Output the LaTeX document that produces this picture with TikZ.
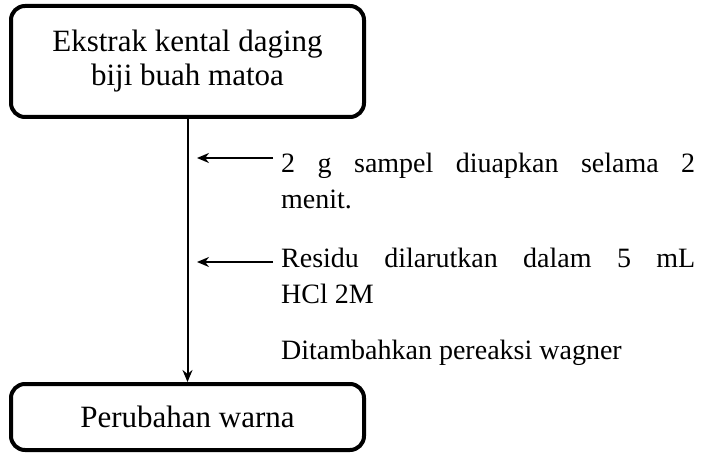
\documentclass[tikz,border=0pt]{standalone}
\usepackage{fontspec}
\setmainfont{Liberation Serif}
\usetikzlibrary{arrows.meta}
\hyphenpenalty=10000

\begin{document}
\begin{tikzpicture}[x=1pt, y=-1pt, >={Stealth[length=12pt,width=10pt]},
    box/.style={draw, line width=4pt, rounded corners=14pt, minimum width=353pt, inner ysep=0pt, align=center, font=\fontsize{31}{34}\selectfont},
    note/.style={anchor=north west, inner xsep=8pt, inner ysep=0pt, text width=414pt, align=justify, font=\fontsize{28}{36}\selectfont}]
    \useasboundingbox (0,0) rectangle (707,454);
    \node[box, minimum height=111pt] (ekstrak) at (187.5,61.5) {Ekstrak kental daging\\biji buah matoa};
    \node[box, minimum height=66pt] (warna) at (187.5,417) {Perubahan warna};
    \node[note] (sampel) at (273,153) {2 g sampel diuapkan selama 2\linebreak menit.};
    \node[note] (residu) at (273,248) {Residu dilarutkan dalam 5 mL\linebreak HCl 2M};
    \node[note] (wagner) at (273,340) {Ditambahkan pereaksi wagner};

    \coordinate (tip1) at (197,158);
    \coordinate (tip2) at (197,262);

    \draw[->, line width=2pt] (ekstrak) -- (warna);
    \draw[->, line width=2pt] (sampel.west |- tip1) -- (tip1);
    \draw[->, line width=2pt] (residu.west |- tip2) -- (tip2);
\end{tikzpicture}
\end{document}
